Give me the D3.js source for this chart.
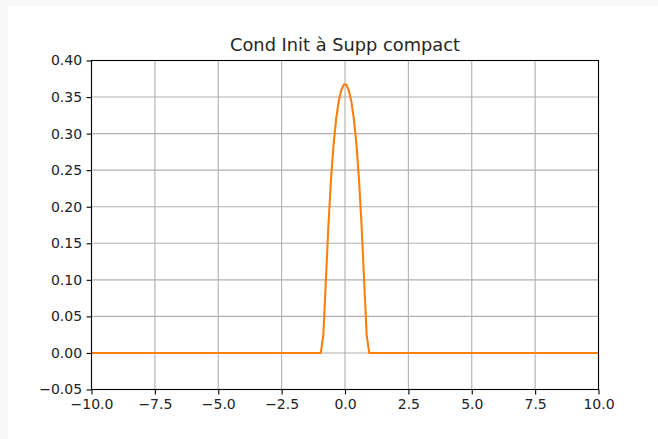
<!DOCTYPE html>
<html>
<head>
<meta charset="utf-8">
<style>
  html, body { margin: 0; padding: 0; background: #f8f8f8; }
  #panel { position: absolute; left: 8px; top: 6px; width: 650px; height: 433px; background: #fff; }
  svg { position: absolute; left: 0; top: 0; }
  text { font-family: "DejaVu Sans", sans-serif; fill: #262626; }
  .grid line { stroke: #b0b0b0; stroke-width: 1.1; }
  .axis .domain { display: none; }
  .axis .tick line { stroke: #000; stroke-width: 1.1; }
  .axis .tick text { font-size: 14px; fill: #222; font-family: "DejaVu Sans", sans-serif; }
  .frame { fill: none; stroke: #000; stroke-width: 1.1; }
  .curve { fill: none; stroke: #ff7f0e; stroke-width: 2.1; stroke-linejoin: round; }
</style>
<script src="https://d3js.org/d3.v7.min.js"></script>
</head>
<body>
<div id="panel"></div>
<svg id="chart" width="658" height="439"></svg>
<script>
// chart title and tick values
var title = "Cond Init à Supp compact";
var xTicks = [-10, -7.5, -5, -2.5, 0, 2.5, 5, 7.5, 10];
var yTicks = [-0.05, 0, 0.05, 0.10, 0.15, 0.20, 0.25, 0.30, 0.35, 0.40];

var xs = [-10, -0.955, -0.854, -0.754, -0.653, -0.553, -0.452, -0.352, -0.251, -0.151, -0.050,
          0.050, 0.151, 0.251, 0.352, 0.452, 0.553, 0.653, 0.754, 0.854, 0.955, 10];
var ys = [0, 0.000, 0.025, 0.099, 0.175, 0.237, 0.285, 0.319, 0.344, 0.359, 0.367,
          0.367, 0.359, 0.344, 0.319, 0.285, 0.237, 0.175, 0.099, 0.025, 0.000, 0];

var plot = {left: 91.5, right: 598.5, top: 60.5, bottom: 389.5};

var svg = d3.select("#chart");

var x = d3.scaleLinear().domain([-10, 10]).range([plot.left, plot.right]);
var y = d3.scaleLinear().domain([-0.05, 0.40]).range([plot.bottom, plot.top]);

// grid
var grid = svg.append("g").attr("class", "grid");
grid.selectAll(".gx").data(xTicks).enter().append("line")
    .attr("x1", function(d) { return x(d); }).attr("x2", function(d) { return x(d); })
    .attr("y1", plot.top).attr("y2", plot.bottom);
grid.selectAll(".gy").data(yTicks).enter().append("line")
    .attr("x1", plot.left).attr("x2", plot.right)
    .attr("y1", function(d) { return y(d); }).attr("y2", function(d) { return y(d); });

// curve
var data = xs.map(function(v, i) { return {x: v, y: ys[i]}; });
var line = d3.line()
    .x(function(d) { return x(d.x); })
    .y(function(d) { return y(d.y); });
svg.append("path").datum(data).attr("class", "curve").attr("d", line);

// frame
svg.append("rect").attr("class", "frame")
    .attr("x", plot.left).attr("y", plot.top)
    .attr("width", plot.right - plot.left).attr("height", plot.bottom - plot.top);

// axes
svg.append("g").attr("class", "axis")
    .attr("transform", "translate(0," + plot.bottom + ")")
    .call(d3.axisBottom(x).tickValues(xTicks).tickFormat(d3.format(".1f"))
          .tickSize(4.9).tickPadding(4.5));

svg.append("g").attr("class", "axis")
    .attr("transform", "translate(" + plot.left + ",0)")
    .call(d3.axisLeft(y).tickValues(yTicks).tickFormat(d3.format(".2f"))
          .tickSize(4.9).tickPadding(4.5));

svg.append("text")
    .attr("x", (plot.left + plot.right) / 2).attr("y", 51)
    .attr("text-anchor", "middle")
    .style("font-size", "17.8px")
    .text(title);
</script>
</body>
</html>
